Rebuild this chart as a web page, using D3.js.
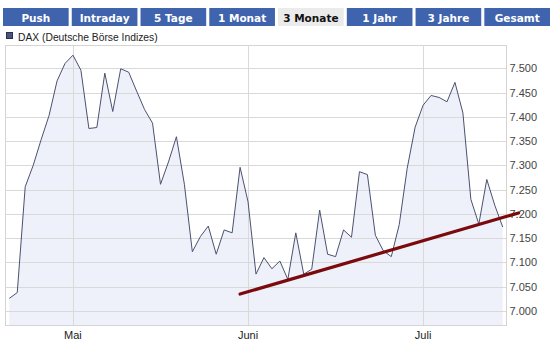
<!DOCTYPE html>
<html><head><meta charset="utf-8">
<script src="https://cdn.jsdelivr.net/npm/d3@7"></script>
<style>html,body{margin:0;padding:0;background:#fff;}svg{display:block;}</style>
</head><body>
<script>
const dates = ["2011-04-18","2011-04-19","2011-04-20","2011-04-21","2011-04-26","2011-04-27","2011-04-28","2011-04-29",
"2011-05-02","2011-05-03","2011-05-04","2011-05-05","2011-05-06","2011-05-09","2011-05-10","2011-05-11","2011-05-12","2011-05-13",
"2011-05-16","2011-05-17","2011-05-18","2011-05-19","2011-05-20","2011-05-23","2011-05-24","2011-05-25","2011-05-26","2011-05-27",
"2011-05-30","2011-05-31","2011-06-01","2011-06-02","2011-06-03","2011-06-06","2011-06-07","2011-06-08","2011-06-09","2011-06-10",
"2011-06-13","2011-06-14","2011-06-15","2011-06-16","2011-06-17","2011-06-20","2011-06-21","2011-06-22","2011-06-23","2011-06-24",
"2011-06-27","2011-06-28","2011-06-29","2011-06-30","2011-07-01","2011-07-04","2011-07-05","2011-07-06","2011-07-07","2011-07-08",
"2011-07-11","2011-07-12","2011-07-13","2011-07-14","2011-07-15"];
const values = [7026,7038,7256,7300,7353,7403,7474,7510,7527,7496,7376,7378,7490,7411,7499,7492,7453,7415,7387,7261,
7307,7359,7261,7122,7153,7175,7117,7167,7161,7296,7225,7076,7110,7087,7103,7065,7161,7076,7086,7208,
7117,7112,7167,7152,7287,7281,7156,7124,7112,7178,7294,7379,7424,7444,7440,7431,7471,7408,7230,7179,
7271,7218,7173];
const yTicks = [7000,7050,7100,7150,7200,7250,7300,7350,7400,7450,7500];
const monthTicks = ["2011-05-02","2011-06-01","2011-07-01"];
const monthLabels = ["Mai","Juni","Juli"];
const tabs = ["Push","Intraday","5 Tage","1 Monat","3 Monate","1 Jahr","3 Jahre","Gesamt"];
const activeTab = "3 Monate";
const trendIdx = [29, 64];
const trendVals = [7035, 7202];
const seriesName = "DAX (Deutsche Börse Indizes)";

const W = 555, H = 349;
const plot = {left:5, right:506, top:45, bottom:325};
const svg = d3.select("body").append("svg").attr("width",W).attr("height",H);

// tabs
const tabX = d3.scaleBand().domain(tabs).range([3,550]).paddingInner(0.045);
const tg = svg.append("g").selectAll("g").data(tabs).join("g");
tg.append("rect").attr("x",d=>tabX(d)).attr("y",8).attr("width",tabX.bandwidth()).attr("height",18)
  .attr("fill",d=>d===activeTab?"#ebebeb":"#3f63ad");
tg.append("text").attr("x",d=>tabX(d)+tabX.bandwidth()/2).attr("y",21.5).attr("text-anchor","middle")
  .attr("font-family","DejaVu Sans").attr("font-weight","bold").attr("font-size",10.5)
  .attr("fill",d=>d===activeTab?"#111":"#fff").text(d=>d);

// legend
svg.append("rect").attr("x",6.5).attr("y",32.5).attr("width",6).attr("height",6)
  .attr("fill","#4d5379").attr("stroke","#2c3050").attr("stroke-width",1);
svg.append("text").attr("x",18).attr("y",41).attr("font-family","Liberation Sans").attr("font-size",10.3)
  .attr("fill","#222").text(seriesName);

const x = d3.scaleLinear().domain([0, dates.length-1]).range([9.3, 502.7]);
const y = d3.scaleLinear().domain([7000,7500]).range([311,68.3]);

// plot border
svg.append("rect").attr("x",plot.left+0.5).attr("y",plot.top+0.5).attr("width",plot.right-plot.left)
  .attr("height",plot.bottom-plot.top).attr("fill","#fff").attr("stroke","#d4d4d4");

// area
const area = d3.area().x((d,i)=>x(i)).y0(plot.bottom).y1(d=>y(d));
svg.append("path").datum(values).attr("d",area).attr("fill","#eef1f9");

// grid
const gy = svg.append("g");
gy.selectAll("line").data(yTicks).join("line")
  .attr("x1",plot.left).attr("x2",plot.right).attr("y1",d=>Math.round(y(d))+0.5).attr("y2",d=>Math.round(y(d))+0.5)
  .attr("stroke","#d9d9d9");
const gx = svg.append("g");
gx.selectAll("line").data(monthTicks).join("line")
  .attr("x1",d=>Math.round(x(dates.indexOf(d)))+0.5).attr("x2",d=>Math.round(x(dates.indexOf(d)))+0.5)
  .attr("y1",plot.top).attr("y2",plot.bottom).attr("stroke","#d9d9d9");

// line
const line = d3.line().x((d,i)=>x(i)).y(d=>y(d));
svg.append("path").datum(values).attr("d",line).attr("fill","none").attr("stroke","#4b5170").attr("stroke-width",1);

// y axis labels
const fmt = v => d3.format(",")(v).replace(",",".");
svg.append("g").selectAll("text").data(yTicks).join("text")
  .attr("x",509.5).attr("y",d=>y(d)+4).attr("font-family","Liberation Sans").attr("font-size",11)
  .attr("fill","#444").text(fmt);

// x labels
svg.append("g").selectAll("text").data(monthTicks).join("text")
  .attr("x",d=>x(dates.indexOf(d))).attr("y",339).attr("text-anchor","middle")
  .attr("font-family","Liberation Sans").attr("font-size",11).attr("fill","#222")
  .text((d,i)=>monthLabels[i]);

// trend line
svg.append("line").attr("x1",x(trendIdx[0])).attr("y1",y(trendVals[0]))
  .attr("x2",x(trendIdx[1])).attr("y2",y(trendVals[1]))
  .attr("stroke","#7a0a0c").attr("stroke-width",3.2).attr("stroke-linecap","round");
</script>
</body></html>
